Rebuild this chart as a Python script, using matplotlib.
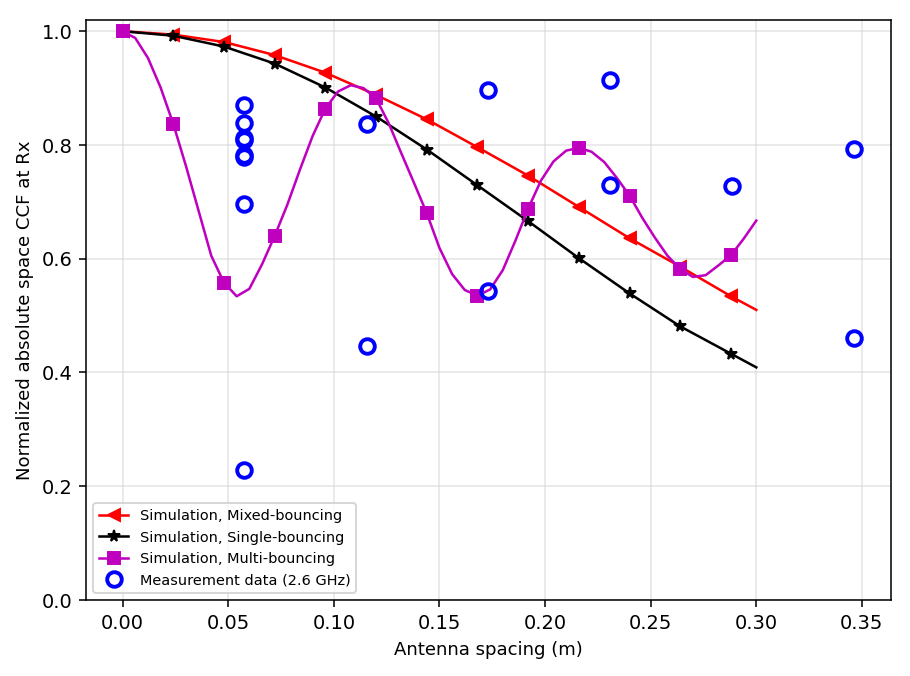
import numpy as np
import matplotlib
matplotlib.use('Agg')
import matplotlib.pyplot as plt

# simulation curves (mixed / single bouncing), markers every 0.024 m, line ends at 0.30 m
sim_x = [0.0, 0.024, 0.048, 0.072, 0.096, 0.120, 0.144, 0.168, 0.192, 0.216, 0.240, 0.264, 0.288, 0.300]
mixed = [1.000, 0.994, 0.981, 0.958, 0.927, 0.888, 0.845, 0.796, 0.746, 0.691, 0.636, 0.586, 0.534, 0.510]
single = [1.000, 0.992, 0.973, 0.943, 0.901, 0.850, 0.792, 0.729, 0.666, 0.601, 0.539, 0.481, 0.433, 0.409]

# multi-bouncing curve read every 0.006 m (markers every 0.024 m)
multi_x = np.round(np.arange(0, 0.3001, 0.006), 3)
multi = [1.000, 0.988, 0.953, 0.901, 0.837, 0.763, 0.684, 0.605, 0.558, 0.534,
         0.547, 0.590, 0.640, 0.695, 0.757, 0.816, 0.864, 0.894, 0.905, 0.900,
         0.882, 0.838, 0.785, 0.733, 0.680, 0.619, 0.573, 0.545, 0.535, 0.546,
         0.580, 0.632, 0.688, 0.737, 0.771, 0.790, 0.795, 0.788, 0.770, 0.742,
         0.711, 0.672, 0.637, 0.605, 0.582, 0.568, 0.571, 0.588, 0.606, 0.635,
         0.667]

# measurement data
meas_x = [0.0577] * 8 + [0.1155] * 2 + [0.1732] * 2 + [0.2309] * 2 + [0.2887] + [0.3464] * 2
meas_y = [0.870, 0.838, 0.813, 0.808, 0.783, 0.778, 0.697, 0.228,
          0.837, 0.446,
          0.896, 0.544,
          0.914, 0.730,
          0.728,
          0.793, 0.460]

fig, ax = plt.subplots(figsize=(6.5, 4.83), dpi=140)
fig.subplots_adjust(left=0.0945, right=0.979, top=0.9704, bottom=0.1124)

ax.plot(sim_x, mixed, color='red', marker='<', lw=1.3, ms=6,
        markevery=slice(0, 13), label='Simulation, Mixed-bouncing')
ax.plot(sim_x, single, color='black', marker='*', lw=1.3, ms=6,
        markevery=slice(0, 13), label='Simulation, Single-bouncing')
ax.plot(multi_x, multi, color='m', marker='s', lw=1.3, ms=6,
        markevery=slice(0, 49, 4), label='Simulation, Multi-bouncing')
ax.plot(meas_x, meas_y, 'o', color='blue', mfc='none', ms=7.5, mew=2,
        label='Measurement data (2.6 GHz)')

ax.set_ylim(0, 1.02)
ax.grid(True, color='lightgray', alpha=0.6, lw=0.8)
ax.set_xlabel('Antenna spacing (m)', fontsize=9.3)
ax.set_ylabel('Normalized absolute space CCF at Rx', fontsize=9.3)
ax.legend(loc='lower left', fontsize=7.45)

plt.savefig('out.png')
